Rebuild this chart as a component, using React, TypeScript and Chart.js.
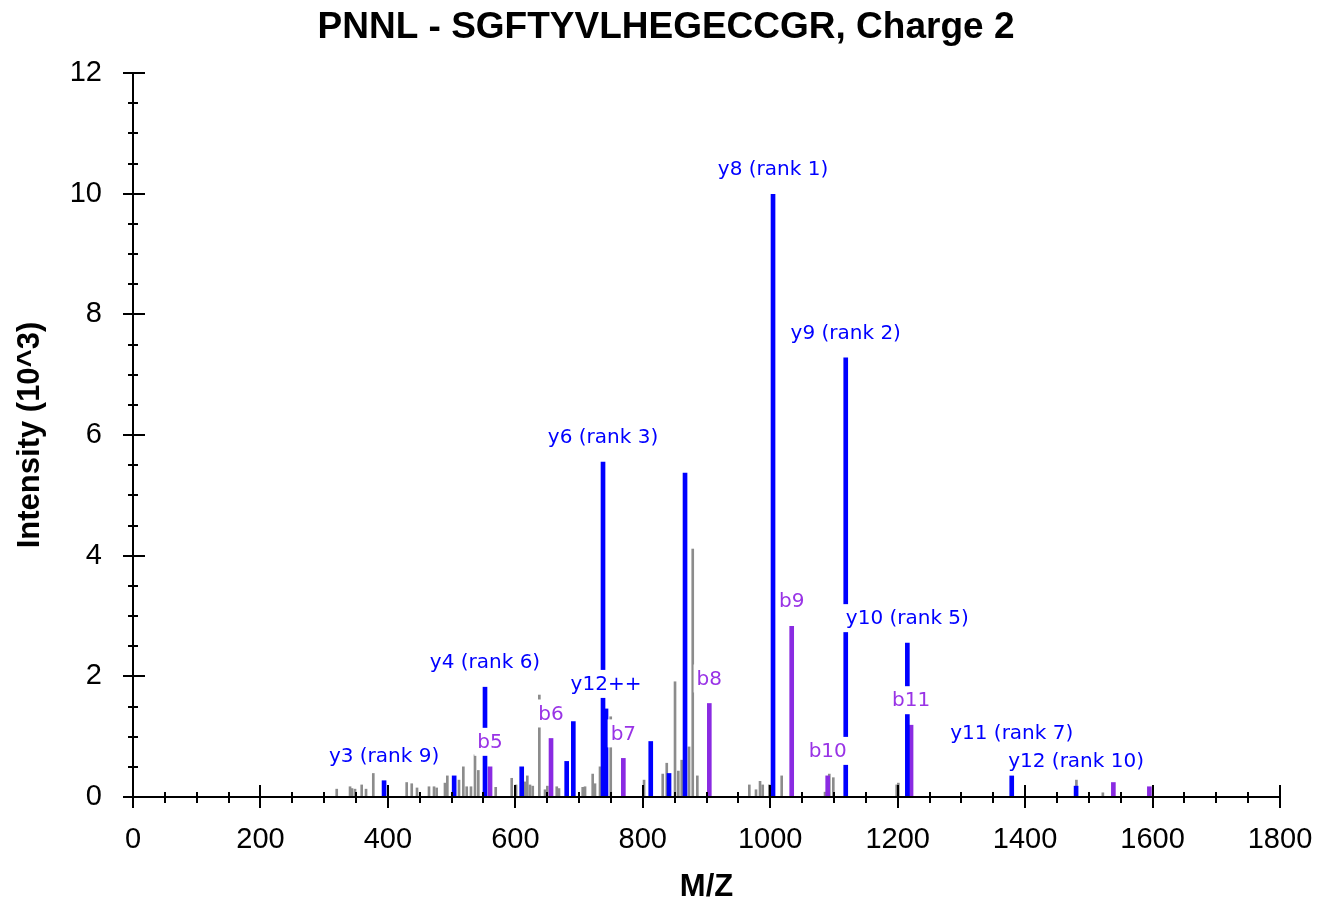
import React, { useEffect, useRef } from 'react';
import { Chart, registerables } from 'chart.js';

Chart.register(...registerables);

const TITLE = 'PNNL - SGFTYVLHEGECCGR, Charge 2';
const X_TITLE = 'M/Z';
const Y_TITLE = 'Intensity (10^3)';

const X_MIN = 0;
const X_MAX = 1800;
const X_MAJOR = 200;
const X_MINOR = 50;
const Y_MIN = 0;
const Y_MAX = 12;
const Y_MAJOR = 2;
const Y_MINOR = 0.5;

// y ions (blue)
const yIonMz = [394, 504, 552.4, 610, 680.6, 691, 737.6, 742.3, 812.5, 841.2, 866.3, 1004.4, 1118.5, 1215.2, 1379, 1480];
const yIonIntensity = [0.27, 0.35, 1.82, 0.5, 0.59, 1.25, 5.55, 1.46, 0.92, 0.39, 5.37, 9.99, 7.28, 2.55, 0.35, 0.18];
const yIonLabels = ['y3 (rank 9)', '', 'y4 (rank 6)', '', '', '', 'y6 (rank 3)', 'y12++', '', '', '', 'y8 (rank 1)', 'y9 (rank 2)', 'y10 (rank 5)', 'y11 (rank 7)', 'y12 (rank 10)'];

// b ions (purple)
const bIonMz = [560.3, 656, 769.5, 904.4, 1033.7, 1090.2, 1221, 1538.5, 1595];
const bIonIntensity = [0.5, 0.97, 0.64, 1.55, 2.83, 0.35, 1.19, 0.24, 0.17];
const bIonLabels = ['b5', 'b6', 'b7', 'b8', 'b9', 'b10', 'b11', '', ''];

// unassigned peaks (gray)
const otherMz = [319.7, 340.6, 343.7, 348.4, 358.9, 365.7, 377.1, 429.5, 437.4, 445.7, 464.5, 472.4, 476.6, 489.6, 493.3, 511.6, 518.4, 523.7, 530.4, 536.7, 541.9, 569.2, 594.3, 601.1, 615.2, 618.8, 623, 627.3, 637.7, 646.6, 650.2, 665, 668.5, 705.7, 709.4, 721.4, 725, 732.9, 749.7, 802, 831.3, 837.6, 850.6, 855.8, 861.1, 872.6, 878.4, 885.6, 967.2, 977.7, 984, 988.2, 998.6, 1018, 1086, 1092.7, 1099, 1198.5, 1201, 1480.5, 1522];
const otherIntensity = [0.13, 0.17, 0.14, 0.13, 0.2, 0.13, 0.39, 0.24, 0.22, 0.15, 0.17, 0.17, 0.15, 0.23, 0.35, 0.28, 0.5, 0.17, 0.17, 0.7, 0.44, 0.16, 0.31, 0.2, 0.25, 0.35, 0.2, 0.18, 1.69, 0.12, 0.18, 0.17, 0.14, 0.16, 0.17, 0.38, 0.22, 0.5, 1.33, 0.28, 0.38, 0.56, 1.91, 0.43, 0.61, 0.83, 4.11, 0.35, 0.2, 0.12, 0.26, 0.2, 0.2, 0.35, 0.08, 0.38, 0.32, 0.2, 0.23, 0.28, 0.07];

const BLUE = '#0000ff';
const PURPLE = '#8a2be2';
const PURPLE_TEXT = '#9933e6';
const GRAY = '#8c8c8c';

const toPoints = (xs: number[], ys: number[]) => xs.map((x, i) => ({ x, y: ys[i] }));

const axesPlugin = {
  id: 'msAxes',
  afterDraw(chart: any) {
    const { ctx, chartArea } = chart;
    const xs = chart.scales.x;
    const ys = chart.scales.y;
    ctx.save();
    ctx.strokeStyle = '#000';
    ctx.lineWidth = 2;
    ctx.beginPath();
    ctx.moveTo(chartArea.left, chartArea.bottom);
    ctx.lineTo(chartArea.right, chartArea.bottom);
    ctx.moveTo(chartArea.left, chartArea.top);
    ctx.lineTo(chartArea.left, chartArea.bottom);
    for (let v = X_MIN; v <= X_MAX + 1e-9; v += X_MINOR) {
      const px = Math.round(xs.getPixelForValue(v));
      const major = Math.abs(v / X_MAJOR - Math.round(v / X_MAJOR)) < 1e-9;
      const up = major ? 12 : 5;
      const down = major ? 11 : 6;
      ctx.moveTo(px, chartArea.bottom - up);
      ctx.lineTo(px, chartArea.bottom + down);
    }
    for (let v = Y_MIN; v <= Y_MAX + 1e-9; v += Y_MINOR) {
      const py = Math.round(ys.getPixelForValue(v));
      const major = Math.abs(v / Y_MAJOR - Math.round(v / Y_MAJOR)) < 1e-9;
      const left = major ? 10 : 5;
      const right = major ? 12 : 5;
      ctx.moveTo(chartArea.left - left, py);
      ctx.lineTo(chartArea.left + right, py);
    }
    ctx.stroke();

    // titles
    ctx.fillStyle = '#000';
    ctx.textAlign = 'center';
    ctx.textBaseline = 'middle';
    ctx.font = 'bold 37px "Liberation Sans", Arial, sans-serif';
    ctx.fillText(TITLE, 666, 28);
    ctx.font = 'bold 31px "Liberation Sans", Arial, sans-serif';
    ctx.fillText(X_TITLE, (chartArea.left + chartArea.right) / 2, 887);
    ctx.translate(30, (chartArea.top + chartArea.bottom) / 2);
    ctx.rotate(-Math.PI / 2);
    ctx.fillText(Y_TITLE, 0, 0);
    ctx.restore();
  },
};

const labelPlugin = {
  id: 'peakLabels',
  afterDatasetsDraw(chart: any) {
    const { ctx } = chart;
    const xs = chart.scales.x;
    const ys = chart.scales.y;
    const items: any[] = [];
    yIonMz.forEach((mz, i) => {
      if (yIonLabels[i]) items.push({ mz, v: yIonIntensity[i], text: yIonLabels[i], color: BLUE });
    });
    bIonMz.forEach((mz, i) => {
      if (bIonLabels[i]) items.push({ mz, v: bIonIntensity[i], text: bIonLabels[i], color: PURPLE_TEXT });
    });
    items.sort((a, b) => b.mz - a.mz);
    ctx.save();
    ctx.font = '20px "DejaVu Sans", sans-serif';
    ctx.textAlign = 'center';
    ctx.textBaseline = 'middle';
    const placed: any[] = [];
    const h = 28;
    for (const it of items) {
      const cx = xs.getPixelForValue(it.mz);
      const top = ys.getPixelForValue(it.v);
      const w = ctx.measureText(it.text).width + 6;
      let cy = top - 25;
      let moved = true;
      let guard = 0;
      while (moved && guard < 50) {
        moved = false;
        guard++;
        for (const p of placed) {
          const l = cx - w / 2, r = cx + w / 2, t = cy - h / 2, b = cy + h / 2;
          if (l < p.r && r > p.l && t < p.b && b > p.t) {
            cy = p.t - h / 2;
            moved = true;
          }
        }
      }
      const box = { l: cx - w / 2, r: cx + w / 2, t: cy - h / 2, b: cy + h / 2 };
      placed.push(box);
      ctx.fillStyle = '#fff';
      ctx.fillRect(box.l, box.t, w, h);
      ctx.fillStyle = it.color;
      ctx.fillText(it.text, cx, cy + 1);
    }
    ctx.restore();
  },
};

export default function App() {
  const canvasRef = useRef<HTMLCanvasElement | null>(null);

  useEffect(() => {
    if (!canvasRef.current) return;
    const chart = new Chart(canvasRef.current, {
      type: 'bar',
      data: {
        datasets: [
          {
            label: 'y ions',
            data: toPoints(yIonMz, yIonIntensity),
            backgroundColor: BLUE,
            barThickness: 4,
            grouped: false,
            borderWidth: 0,
          } as any,
          {
            label: 'b ions',
            data: toPoints(bIonMz, bIonIntensity),
            backgroundColor: PURPLE,
            barThickness: 4,
            grouped: false,
            borderWidth: 0,
          } as any,
          {
            label: 'other',
            data: toPoints(otherMz, otherIntensity),
            backgroundColor: GRAY,
            barThickness: 2,
            grouped: false,
            borderWidth: 0,
          } as any,
        ],
      },
      options: {
        responsive: false,
        animation: false,
        devicePixelRatio: 1,
        layout: { padding: { top: 73, right: 40, left: 0, bottom: 0 } },
        plugins: {
          legend: { display: false },
          tooltip: { enabled: false },
          title: { display: false },
        },
        scales: {
          x: {
            type: 'linear',
            min: X_MIN,
            max: X_MAX,
            offset: false,
            grid: { display: false, drawTicks: false },
            border: { display: false },
            ticks: {
              stepSize: X_MAJOR,
              autoSkip: false,
              maxRotation: 0,
              padding: 26,
              color: '#000',
              font: { size: 29, family: '"Liberation Sans", Arial, sans-serif' },
              callback: (v: any) => String(v),
            },
            afterFit: (scale: any) => {
              scale.height = 109;
              scale.paddingLeft = 0;
              scale.paddingRight = 0;
            },
          },
          y: {
            min: Y_MIN,
            max: Y_MAX,
            grid: { display: false, drawTicks: false },
            border: { display: false },
            ticks: {
              stepSize: Y_MAJOR,
              padding: 31,
              color: '#000',
              font: { size: 29, family: '"Liberation Sans", Arial, sans-serif' },
              callback: (v: any) => String(v),
            },
            afterFit: (scale: any) => {
              scale.width = 133;
              scale.paddingTop = 0;
              scale.paddingBottom = 0;
            },
          },
        },
      } as any,
      plugins: [labelPlugin, axesPlugin],
    });
    return () => chart.destroy();
  }, []);

  return (
    <div style={{ position: 'fixed', left: 0, top: 0, width: 1320, height: 906, background: '#fff' }}>
      <canvas ref={canvasRef} width={1320} height={906} style={{ display: 'block' }} />
    </div>
  );
}
